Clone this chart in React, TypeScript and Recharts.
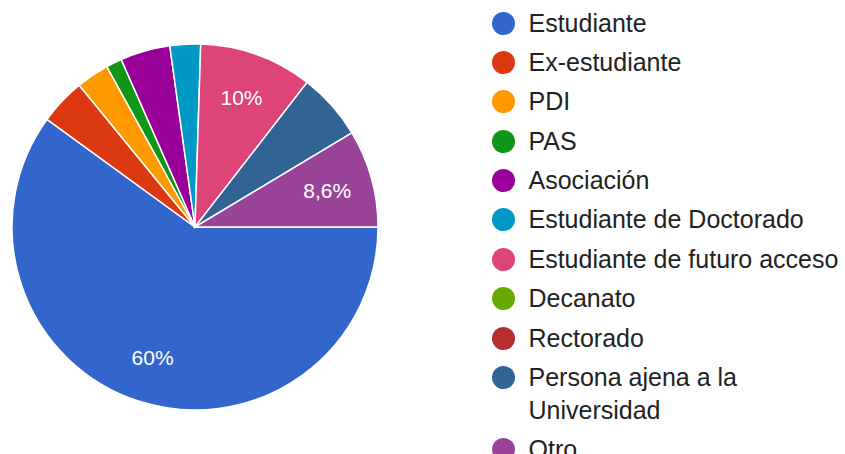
import { PieChart, Pie, Cell, Legend } from "recharts";

const categories = [
  "Estudiante",
  "Ex-estudiante",
  "PDI",
  "PAS",
  "Asociación",
  "Estudiante de Doctorado",
  "Estudiante de futuro acceso",
  "Decanato",
  "Rectorado",
  "Persona ajena a la Universidad",
  "Otro",
];

const shares = [60, 4.1, 2.9, 1.4, 4.4, 2.7, 10, 0, 0, 5.9, 8.6];

const colors = [
  "#3366cc",
  "#dc3912",
  "#ff9900",
  "#109618",
  "#990099",
  "#0099c6",
  "#dd4477",
  "#66aa00",
  "#b82e2e",
  "#316395",
  "#994499",
];

const data = categories.map((name, i) => ({ name, value: shares[i] }));

const RADIAN = Math.PI / 180;
const FONT = "'Liberation Sans', Arial, sans-serif";

function renderLabel(props: any) {
  const { cx, cy, midAngle, outerRadius, value } = props;
  if (value < 8) return null;
  const r = outerRadius * 0.75;
  const x = cx + r * Math.cos(-midAngle * RADIAN);
  const y = cy + r * Math.sin(-midAngle * RADIAN);
  return (
    <text
      x={x}
      y={y}
      fill="#ffffff"
      textAnchor="middle"
      dominantBaseline="central"
      fontSize={21}
      fontFamily={FONT}
    >
      {String(value).replace(".", ",") + "%"}
    </text>
  );
}

function LegendList() {
  return (
    <div style={{ fontFamily: FONT, fontSize: 25, color: "#222" }}>
      {categories.map((name, i) => (
        <div
          key={name}
          style={{
            display: "flex",
            alignItems: "flex-start",
            lineHeight: "33px",
            marginBottom: 6.4,
          }}
        >
          <div
            style={{
              width: 23,
              height: 23,
              borderRadius: "50%",
              background: colors[i],
              marginTop: 5,
              flexShrink: 0,
            }}
          />
          <div style={{ marginLeft: 13.5, width: 318 }}>{name}</div>
        </div>
      ))}
    </div>
  );
}

export default function App() {
  return (
    <div style={{ position: "absolute", left: 0, top: 0, background: "#fff" }}>
      <PieChart
        width={845}
        height={454}
        margin={{ top: 0, right: 0, bottom: 0, left: 0 }}
      >
        <Pie
          data={data}
          dataKey="value"
          nameKey="name"
          cx={195}
          cy={227}
          outerRadius={183}
          startAngle={0}
          endAngle={-360}
          stroke="#ffffff"
          strokeWidth={1.5}
          label={renderLabel}
          labelLine={false}
          isAnimationActive={false}
        >
          {data.map((d, i) => (
            <Cell key={d.name} fill={colors[i]} />
          ))}
        </Pie>
        <Legend
          layout="vertical"
          align="right"
          verticalAlign="top"
          content={() => <LegendList />}
          wrapperStyle={{ left: 492, top: 6.5, width: 353 }}
        />
      </PieChart>
    </div>
  );
}
